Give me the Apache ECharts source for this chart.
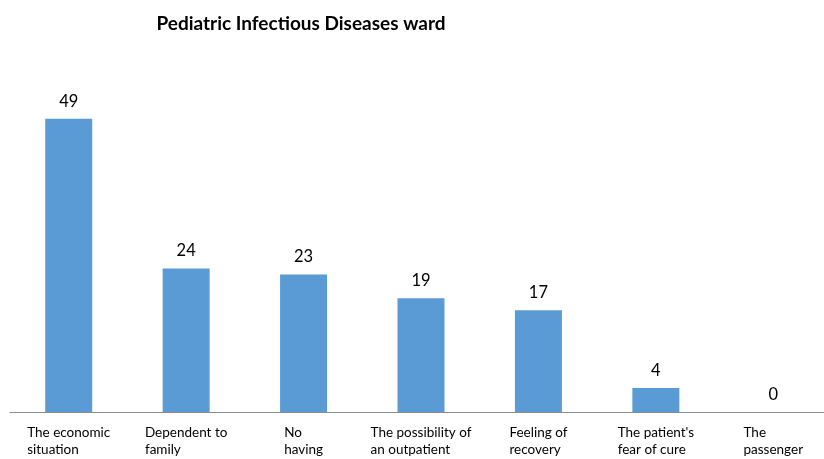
<!DOCTYPE html>
<html style="height: 100%;">

<head>
    <meta charset="utf-8">
    <title>Pediatric Infectious Diseases ward</title>
    <script src="https://cdn.jsdelivr.net/npm/echarts@6/dist/echarts.min.js"></script>
    <style>
        html,
        body {
            height: 100%;
            margin: 0;
            padding: 0;
            background-color: #fff;
            overflow: hidden;
        }

        /* the plot runs a little past the right edge of the window, as in the original */
        #main {
            width: 832px;
            height: 459px;
        }
    </style>
</head>

<body>
    <div id="main"></div>
    <script type="text/javascript">
        // data
        var categories = [
            'The economic\nsituation',
            'Dependent to\nfamily',
            'No\nhaving',
            'The possibility of\nan outpatient',
            'Feeling of\nrecovery',
            "The patient's\nfear of cure",
            'The\npassenger'
        ];
        var values = [49, 24, 23, 19, 17, 4, 0];

        var myChart = echarts.init(document.getElementById('main'));

        var option = {
            backgroundColor: '#fff',
            title: {
                text: 'Pediatric Infectious Diseases ward',
                left: 296,
                top: 9,
                textAlign: 'center',
                textStyle: {
                    fontFamily: 'Lato',
                    fontWeight: 'bold',
                    fontSize: 19,
                    color: '#000'
                }
            },
            grid: {
                left: 10,
                right: 0,
                top: 53,
                bottom: 47
            },
            xAxis: {
                type: 'category',
                data: categories,
                axisLine: { lineStyle: { color: '#8c8c8c', width: 1 } },
                axisTick: { show: false },
                axisLabel: {
                    interval: 0,
                    margin: 12,
                    // keep lines of one label left-aligned inside a centred block
                    formatter: function (v) {
                        return v.split('\n').map(function (s) { return '{l|' + s + '}'; }).join('\n');
                    },
                    rich: {
                        l: {
                            align: 'left',
                            fontFamily: 'Lato',
                            fontSize: 13.5,
                            lineHeight: 17,
                            color: '#000'
                        }
                    }
                }
            },
            yAxis: {
                type: 'value',
                min: 0,
                max: 60,
                show: false,
                splitLine: { show: false }
            },
            series: [{
                type: 'bar',
                data: values,
                barWidth: 47,
                itemStyle: { color: '#5b9bd5' },
                label: {
                    show: true,
                    position: 'top',
                    distance: 9,
                    fontFamily: 'Lato',
                    fontSize: 16.5,
                    color: '#000'
                }
            }]
        };

        myChart.setOption(option);
    </script>
</body>

</html>
